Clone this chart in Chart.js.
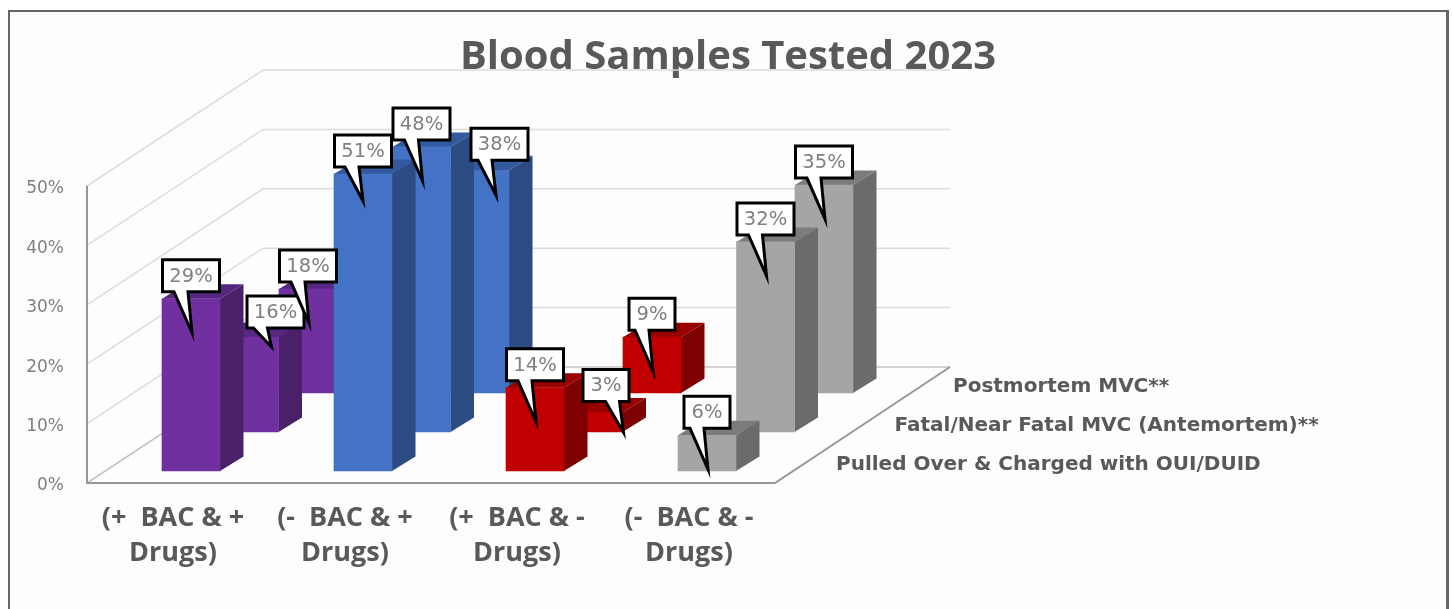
<!DOCTYPE html>
<html>
<head>
<meta charset="utf-8">
<title>Blood Samples Tested 2023</title>
<script src="https://cdn.jsdelivr.net/npm/chart.js"></script>
<style>
    html, body { margin: 0; background: #fff; overflow: hidden; }
    #frame { position: absolute; left: 8px; top: 10px; width: 1436px; height: 700px; border: 2px solid #666; border-right-width: 3px; background: #fdfdfd; }
    canvas { position: absolute; left: 0; top: 0; }
</style>
</head>
<body>
<div id="frame"></div>
<canvas id="chart" width="1452" height="609"></canvas>
<script>
// categories and series
const categories = [
    ['(+  BAC & +', 'Drugs)'],
    ['(-  BAC & +', 'Drugs)'],
    ['(+  BAC & -', 'Drugs)'],
    ['(-  BAC & -', 'Drugs)']
];
const seriesNames = [
    'Pulled Over & Charged with OUI/DUID',
    'Fatal/Near Fatal MVC (Antemortem)**',
    'Postmortem MVC**'
];
const pulledOver = [29, 51, 14, 6];
const antemortem = [16, 48, 3.3, 32];
const postmortem = [17.5, 37.5, 9.4, 35];
const yTicks = [0, 10, 20, 30, 40, 50];

// one colour per category
const frontColors = ['#7030A0', '#4472C4', '#C00000', '#A5A5A5'];
const sideColors = ['#4A2069', '#2B4B82', '#7F0000', '#6B6B6B'];
const topColors = ['#552780', '#335A9E', '#990000', '#7C7C7C'];

// fake 3d settings
const rowStepX = 58.5, rowStepY = 39;   // shift between rows
const rowStartX = 18, rowStartY = 12;   // first row inset from the axis
const sideX = 23.5, sideY = 14.5;       // bar depth
const wallX = 175, wallY = 116;         // floor depth

// callouts that were moved by hand in the original: 'row,category': [box x, box bottom, tip x, tip y]
const movedCallouts = {
    '0,1': [0, -7, 0, 27],
    '1,0': [26, -9, 22, 10],
    '1,2': [12.5, -11, 30, 20],
    '2,1': [19.5, -10, 16, 25]
};

const rows = [pulledOver, antemortem, postmortem];
const rowShift = (row) => ({ x: rowStartX + row * rowStepX, y: -rowStartY - row * rowStepY });

const line = (ctx, points, color, width) => {
    ctx.beginPath();
    points.forEach((p, i) => i ? ctx.lineTo(p[0], p[1]) : ctx.moveTo(p[0], p[1]));
    ctx.strokeStyle = color;
    ctx.lineWidth = width;
    ctx.stroke();
};

const fillShape = (ctx, points, color) => {
    ctx.beginPath();
    points.forEach((p, i) => i ? ctx.lineTo(p[0], p[1]) : ctx.moveTo(p[0], p[1]));
    ctx.closePath();
    ctx.fillStyle = color;
    ctx.fill();
};

// walls, floor and series names
const walls = {
    id: 'walls',
    afterLayout(chart) {
        // center the title on the page and not on the plot
        chart.titleBlock.left = 0;
        chart.titleBlock.right = 1456;
    },
    beforeDatasetsDraw(chart) {
        const ctx = chart.ctx;
        const { x: xScale, y: yScale } = chart.scales;
        const left = xScale.left, right = xScale.right, bottom = yScale.bottom;

        ctx.save();
        yTicks.forEach(tick => {
            const y = yScale.getPixelForValue(tick);
            line(ctx, [[left, y], [left + wallX + 1, y - wallY], [right + wallX, y - wallY]], tick === 0 ? '#c4c4c4' : '#dcdcdc', 1.5);
        });
        line(ctx, [[left, yScale.top], [left, bottom], [right, bottom], [right + wallX, bottom - wallY]], '#979797', 2);

        ctx.font = 'bold 20px "DejaVu Sans"';
        ctx.fillStyle = '#595959';
        ctx.textBaseline = 'middle';
        seriesNames.forEach((name, row) => {
            const shift = rowShift(row);
            ctx.fillText(name, right + 43 + shift.x, bottom - 6 + shift.y);
        });
        ctx.restore();
    },
    // move each row back and draw the sides of its bars
    beforeDatasetDraw(chart, args) {
        const ctx = chart.ctx;
        const shift = rowShift(args.index);
        ctx.save();
        ctx.translate(shift.x, shift.y);
        args.meta.data.forEach((bar, i) => {
            const l = bar.x - bar.width / 2, r = bar.x + bar.width / 2;
            fillShape(ctx, [[l, bar.y], [l + sideX, bar.y - sideY], [r + sideX, bar.y - sideY], [r, bar.y]], topColors[i]);
            fillShape(ctx, [[r, bar.y], [r + sideX, bar.y - sideY], [r + sideX, bar.base - sideY], [r, bar.base]], sideColors[i]);
        });
    },
    afterDatasetDraw(chart) {
        chart.ctx.restore();
    }
};

// white callouts with the percentages
const callouts = {
    id: 'callouts',
    afterDatasetsDraw(chart) {
        const ctx = chart.ctx;
        ctx.save();
        rows.forEach((values, row) => {
            const shift = rowShift(row);
            chart.getDatasetMeta(row).data.forEach((bar, i) => {
                const moved = movedCallouts[row + ',' + i] || [0, -7, 1, 34];
                const text = Math.round(values[i]) + '%';
                const cx = bar.x + shift.x, top = bar.y + shift.y;
                const w = text.length > 2 ? 57 : 46, h = 32;
                const boxX = cx + moved[0] - w / 2, boxY = top + moved[1] - h;
                const tipX = cx + moved[2], tipY = top + moved[3];
                const bottom = boxY + h;

                ctx.beginPath();
                ctx.moveTo(boxX, boxY);
                ctx.lineTo(boxX + w, boxY);
                ctx.lineTo(boxX + w, bottom);
                ctx.lineTo(tipX - 4, bottom);
                ctx.lineTo(tipX, tipY);
                ctx.lineTo(tipX - 18, bottom);
                ctx.lineTo(boxX, bottom);
                ctx.closePath();
                ctx.fillStyle = '#fff';
                ctx.fill();
                ctx.strokeStyle = '#000';
                ctx.lineWidth = 3;
                ctx.lineJoin = 'miter';
                ctx.stroke();

                ctx.fillStyle = '#7f7f7f';
                ctx.font = '19.5px "DejaVu Sans"';
                ctx.textAlign = 'center';
                ctx.textBaseline = 'middle';
                ctx.fillText(text, boxX + w / 2, boxY + h / 2 + 1);
            });
        });
        ctx.restore();
    }
};

// create chart
const myChart = document.getElementById('chart');

let chart = new Chart(myChart, {
    type: 'bar',
    data: {
        labels: categories,
        datasets: rows.map((values, row) => ({
            label: seriesNames[row],
            // the axis stops at the last tick so taller bars are cut there
            data: values.map(v => Math.min(v, yTicks[yTicks.length - 1])),
            backgroundColor: frontColors,
            barThickness: 58,
            grouped: false,
            clip: false
        }))
    },
    plugins: [walls, callouts],
    options: {
        responsive: false,
        animation: false,
        events: [],
        layout: { padding: { right: 677 } },
        plugins: {
            legend: { display: false },
            tooltip: { enabled: false },
            title: {
                display: true,
                text: 'Blood Samples Tested 2023',
                color: '#595959',
                font: { family: '"Open Sans"', size: 40, weight: 'bold', lineHeight: 1.2 },
                padding: { top: 34, bottom: 104 }
            }
        },
        scales: {
            x: {
                afterFit: (scale) => { scale.height = 126; },
                grid: { display: false },
                border: { display: false },
                ticks: {
                    color: '#595959',
                    font: { family: '"Open Sans"', size: 27, weight: 'bold', lineHeight: 1.3 },
                    padding: 9.5,
                    maxRotation: 0,
                    autoSkip: false
                }
            },
            y: {
                min: yTicks[0],
                max: yTicks[yTicks.length - 1],
                afterFit: (scale) => { scale.width = 87; },
                grid: { display: false },
                border: { display: false },
                ticks: {
                    stepSize: 10,
                    color: '#7f7f7f',
                    padding: 15,
                    labelOffset: 3,
                    font: { family: '"DejaVu Sans"', size: 17 },
                    callback: (value) => value + '%'
                }
            }
        }
    }
});
</script>
</body>
</html>
